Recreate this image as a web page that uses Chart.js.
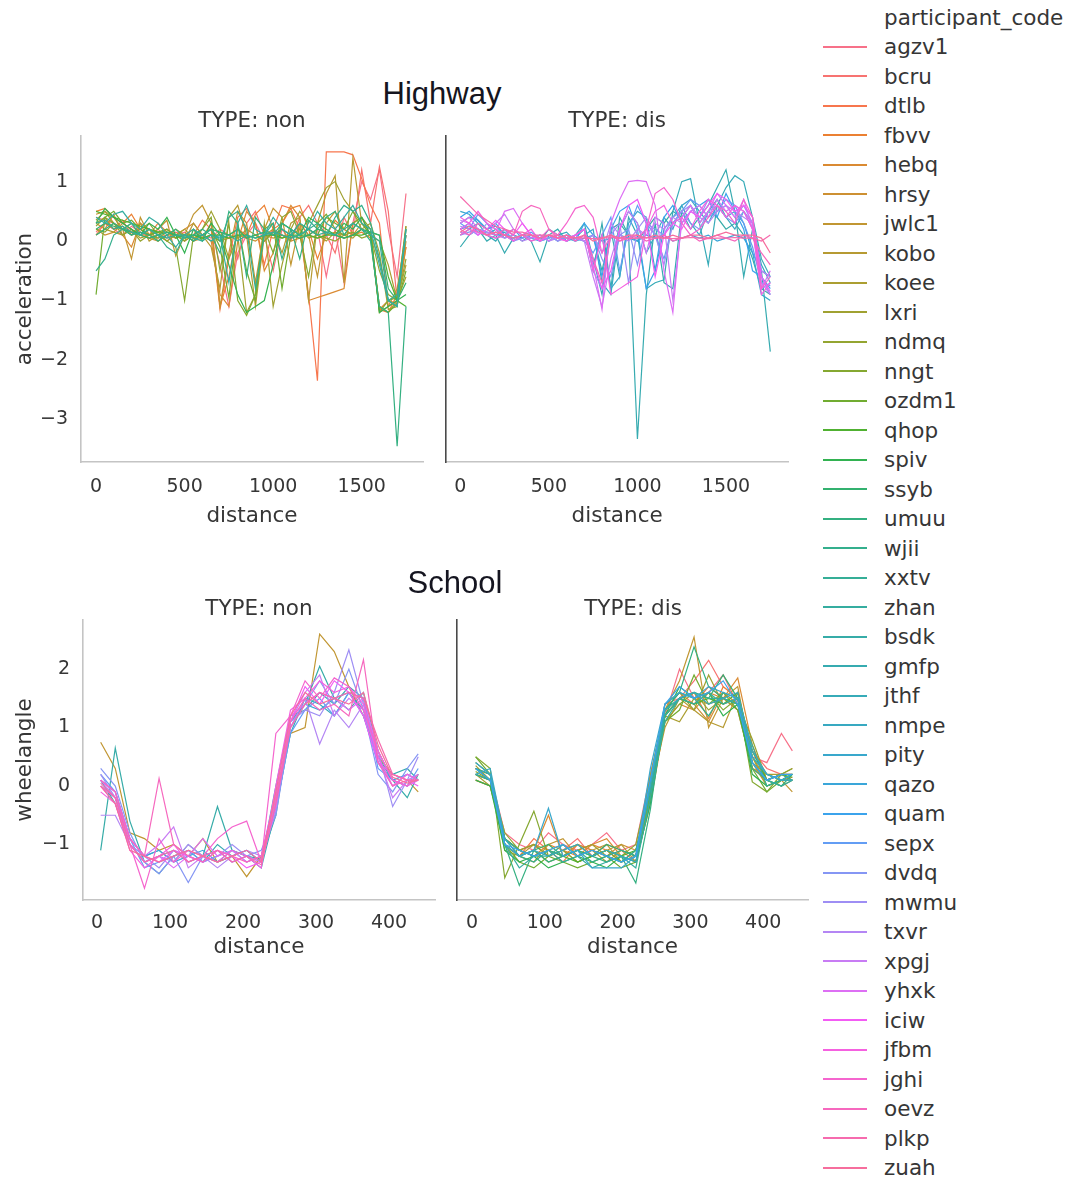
<!DOCTYPE html>
<html>
<head>
<meta charset="utf-8">
<script src="https://cdn.jsdelivr.net/npm/chart.js@4.4.1/dist/chart.umd.min.js"></script>
<style>
  html, body { margin: 0; padding: 0; background: #fff; }
  #fig { position: relative; width: 1070px; height: 1179px; overflow: hidden; background: #fff; }
  .txt { position: absolute; white-space: nowrap; line-height: 1; }
  .panel { position: absolute; }
  .swatch { position: absolute; height: 2px; }
</style>
</head>
<body>
<div id="fig"></div>
<script>
// ---- participants (hue order of the legend) ----
const participants = ['agzv1','bcru','dtlb','fbvv','hebq','hrsy','jwlc1','kobo','koee','lxri',
  'ndmq','nngt','ozdm1','qhop','spiv','ssyb','umuu','wjii','xxtv','zhan',
  'bsdk','gmfp','jthf','nmpe','pity','qazo','quam','sepx','dvdq','mwmu',
  'txvr','xpgj','yhxk','iciw','jfbm','jghi','oevz','plkp','zuah'];

// ---- Highway: acceleration along distance ----
const hwDistance = [0,50,100,150,200,250,300,350,400,450,500,550,600,650,700,750,800,850,
  900,950,1000,1050,1100,1150,1200,1250,1300,1350,1400,1450,1500,1550,1600,1650,1700,1750];
const hwDistanceTicks = [0,500,1000,1500];
const accelTicks = [-3,-2,-1,0,1];

const hwNonCodes = ['agzv1','bcru','dtlb','fbvv','hebq','hrsy','jwlc1','kobo','koee','lxri',
  'ndmq','nngt','ozdm1','qhop','spiv','ssyb','umuu','wjii','xxtv','zhan'];
const hwNonAccel = [
  [0.15,0.3,0.2,0.1,0.25,0.15,0.1,0.2,0.05,0.1,0.15,0.05,0.1,0.2,-0.4,-1.1,-0.2,0.1,0.3,0.0,0.2,0.1,0.05,0.3,0.1,0.2,-0.6,0.2,-0.7,0.3,1.0,0.7,1.2,0.2,-0.6,0.8],
  [0.4,0.35,0.3,0.2,0.15,0.2,0.1,0.05,0.1,0.15,0.1,0.0,0.1,0.05,0.2,0.1,-0.3,0.3,0.5,0.1,-0.5,0.2,0.0,0.4,0.6,0.3,0.1,-0.2,0.4,0.1,1.2,0.3,1.25,0.5,-1.0,0.1],
  [0.1,0.3,0.2,0.35,0.1,0.15,0.05,0.1,0.2,0.1,0.0,0.1,0.35,0.2,-1.15,-0.3,0.4,0.55,0.3,-0.4,0.2,0.6,0.55,0.2,-0.9,-2.35,1.5,1.5,1.5,1.45,1.05,0.6,0.3,-1.1,-1.0,-0.1],
  [0.5,0.55,0.4,0.3,0.45,0.2,0.1,0.3,0.15,0.05,0.1,0.2,0.05,0.3,-1.1,-0.6,0.2,0.1,0.45,0.6,0.2,0.3,0.55,0.6,0.2,-0.3,0.1,0.35,0.2,0.1,0.15,0.05,-1.15,-1.2,-0.9,0.25],
  [0.3,0.2,0.45,0.1,-0.1,0.3,0.2,0.1,0.0,0.1,0.2,0.3,0.1,0.0,-0.9,-1.1,0.0,0.5,0.3,-0.5,-0.2,0.3,0.6,0.4,-1.0,-0.95,-0.9,-0.85,-0.8,0.3,0.4,0.1,-1.15,-1.0,-1.05,-0.1],
  [0.2,0.1,0.15,0.3,0.2,0.1,0.05,0.0,0.1,0.05,0.1,0.0,0.05,0.1,0.0,0.05,0.1,0.05,0.0,0.1,0.05,0.1,0.0,0.05,0.1,0.05,0.1,0.15,0.05,0.1,0.2,0.1,-0.3,-1.0,-1.1,0.0],
  [0.45,0.5,0.3,0.2,-0.3,0.4,0.1,0.2,0.35,-0.25,0.1,0.45,0.6,0.3,-1.1,-0.2,0.5,0.3,-0.7,0.2,0.55,0.4,-0.4,0.3,0.1,-0.6,0.3,0.5,0.2,0.1,0.3,0.2,-1.2,-1.1,-0.8,0.1],
  [0.3,0.4,0.2,0.25,0.1,0.3,0.0,0.1,0.2,0.1,0.0,0.3,0.1,-0.1,-0.8,0.4,0.6,0.1,-1.1,0.1,0.2,-0.2,0.3,0.4,-1.0,0.3,0.8,1.1,-0.7,1.4,0.3,0.1,-1.1,-1.2,-1.0,-0.4],
  [0.1,0.2,0.15,0.1,0.2,0.05,0.1,0.15,0.0,0.1,0.2,0.05,0.1,0.0,0.15,0.1,0.05,0.2,0.1,0.0,0.15,0.05,0.1,0.2,0.05,0.1,0.0,0.15,0.1,0.05,0.2,0.1,0.0,-0.4,-1.0,-0.6],
  [0.35,0.5,0.4,0.2,0.3,0.1,0.2,0.0,0.1,0.2,0.1,0.0,0.2,0.5,0.2,-0.3,0.1,-1.2,-0.9,0.3,-1.1,-0.4,0.2,0.5,0.3,0.6,0.9,1.0,0.7,0.5,0.2,0.3,-0.2,-1.15,-1.1,0.2],
  [0.2,0.15,0.3,0.1,0.2,0.0,0.1,0.05,0.15,0.1,0.0,0.1,0.05,0.1,0.0,0.1,0.2,0.05,0.1,0.0,0.15,0.1,0.05,0.1,0.2,0.1,0.05,0.0,0.1,0.15,0.05,0.1,-0.5,-0.9,-1.0,-0.3],
  [0.25,0.4,0.3,0.2,0.1,0.2,0.3,0.1,0.0,-0.1,-1.0,0.1,0.2,0.4,-0.5,0.3,-1.0,-1.25,-0.9,0.2,-0.2,0.4,0.5,0.1,-0.6,0.3,0.45,0.2,0.1,0.3,0.4,0.2,-1.2,-1.0,-0.95,0.25],
  [-0.9,0.4,0.5,0.3,0.35,0.2,0.1,0.15,0.2,0.05,0.1,0.0,0.1,0.2,-0.1,-0.95,0.3,-0.5,-1.0,0.2,0.3,-0.8,0.1,0.3,0.2,0.1,0.4,0.3,0.2,0.5,0.3,0.1,-1.1,-1.2,-1.05,-0.5],
  [0.5,0.45,0.4,0.35,0.3,0.25,0.2,0.15,0.15,0.1,0.1,0.1,0.05,0.1,0.1,0.05,0.1,0.1,0.05,0.1,0.1,0.05,0.1,0.1,0.1,0.05,0.1,0.1,0.05,0.1,0.1,0.15,0.1,-0.6,-1.0,-1.1],
  [0.3,0.55,0.4,0.3,0.2,0.1,0.3,0.2,0.4,0.1,-0.2,0.2,0.0,0.3,0.1,-0.4,-0.9,-1.2,-1.1,-1.0,-0.4,0.3,0.2,0.1,0.4,0.3,0.2,0.1,0.3,0.2,0.4,0.1,-1.2,-1.1,-1.0,-0.9],
  [0.2,0.3,0.25,0.2,0.15,0.1,0.05,0.1,0.15,0.1,0.05,0.1,0.1,0.2,0.15,0.1,0.2,0.05,0.1,0.15,0.1,0.2,0.1,0.05,0.1,0.2,0.15,0.1,0.05,0.1,0.2,0.15,0.1,-0.8,-1.0,-0.7],
  [0.1,0.2,0.3,0.2,0.1,0.15,0.1,0.0,0.1,0.2,0.05,0.1,0.2,0.1,-0.2,0.5,0.3,-0.6,0.4,0.2,0.1,0.3,0.2,-0.3,0.35,0.2,0.4,0.5,0.1,0.3,0.2,0.0,-1.1,-1.2,-3.45,-1.1],
  [-0.5,-0.3,0.1,0.2,0.3,0.1,0.2,0.1,-0.1,-0.2,0.1,0.0,0.1,0.2,0.0,0.4,0.5,0.2,-0.8,0.1,0.3,-0.3,0.2,0.1,0.2,0.3,0.1,0.4,0.6,0.5,0.6,0.3,-0.3,-1.0,-1.1,0.2],
  [0.3,0.35,0.2,0.25,0.15,0.1,0.2,0.1,0.05,0.1,0.1,0.05,0.0,0.1,0.05,0.1,0.0,0.1,0.05,0.1,0.15,0.1,0.05,0.1,0.2,0.1,0.15,0.1,0.2,0.3,0.2,0.1,0.0,-1.0,-0.9,0.1],
  [0.4,0.3,0.45,0.5,0.3,0.2,0.4,0.3,0.1,-0.1,0.1,0.2,0.1,0.0,0.1,-0.7,0.3,0.6,0.2,0.1,0.4,0.2,0.1,0.3,0.2,0.5,0.3,0.2,0.4,0.6,0.3,0.2,-0.4,-1.0,-1.1,0.2]
];

const hwDisCodes = ['bsdk','gmfp','jthf','nmpe','pity','qazo','quam','sepx','dvdq','mwmu',
  'txvr','xpgj','yhxk','iciw','jfbm','jghi','oevz','plkp','zuah'];
const hwDisAccel = [
  [0.2,0.3,0.15,0.1,0.2,0.05,0.1,0.0,0.1,0.05,0.1,0.0,0.1,0.05,0.0,0.1,-0.5,0.2,0.3,0.1,0.0,0.2,0.4,0.3,0.5,0.4,0.6,0.3,0.5,0.4,0.2,0.3,0.1,-0.3,-0.8,-0.9],
  [-0.1,0.1,0.2,0.0,0.1,-0.2,0.05,0.1,0.0,-0.35,0.1,0.2,0.0,0.1,0.2,-0.5,0.3,-0.8,0.4,0.1,-3.33,-0.9,0.3,-0.7,-0.8,0.5,0.2,0.4,0.6,0.9,1.2,0.5,-0.6,0.2,-0.5,-1.86],
  [0.1,0.2,0.3,0.1,0.0,0.2,0.1,0.05,0.1,0.0,0.2,0.1,0.0,0.1,0.3,-0.3,-0.9,0.2,-0.6,0.4,0.1,-0.8,-0.7,-0.65,0.5,1.0,1.05,0.3,-0.4,0.6,0.9,1.1,1.0,0.4,-0.3,-0.6],
  [0.3,0.4,0.35,0.2,0.1,0.15,0.0,0.1,0.05,0.1,0.0,0.1,0.15,0.0,0.1,0.2,-0.7,-0.9,0.2,0.5,0.3,-0.2,0.1,0.4,0.2,0.6,0.3,0.1,0.5,0.7,0.4,0.2,0.5,0.3,-0.4,-0.7],
  [0.5,0.45,0.3,0.2,0.25,0.1,0.0,0.1,0.05,0.1,0.0,0.1,0.0,0.05,0.2,-0.4,0.1,-0.8,-0.6,0.3,0.5,0.4,-0.5,0.2,0.4,0.6,0.7,0.5,0.3,0.6,0.4,0.5,0.3,-0.2,-0.9,-1.0],
  [0.2,0.25,0.2,0.15,0.1,0.1,0.05,0.1,0.05,0.0,0.05,0.1,0.05,0.0,0.05,0.1,0.0,0.05,0.1,0.05,0.0,0.1,0.05,0.1,0.0,0.05,0.1,0.05,0.1,0.0,0.05,0.1,0.05,-0.2,-0.5,-0.6],
  [0.4,0.5,0.35,0.2,0.3,0.1,0.2,0.05,0.1,0.0,0.1,0.05,0.1,0.0,0.3,0.1,-0.6,0.2,0.5,0.6,0.2,-0.8,-0.5,0.4,0.6,0.3,0.5,0.6,0.7,0.4,0.8,0.5,0.2,-0.5,-0.6,-0.8],
  [0.3,0.2,0.45,0.3,0.1,0.2,0.0,0.1,0.15,0.05,0.1,0.0,0.1,0.05,0.0,-0.2,0.1,0.4,-0.5,0.2,0.6,0.3,0.1,-0.3,0.3,0.5,0.7,0.6,0.4,0.5,0.7,0.6,0.3,-0.1,-0.7,-0.75],
  [0.1,0.15,0.2,0.1,0.05,0.1,0.0,0.05,0.1,0.0,0.05,0.1,0.0,0.1,0.0,0.1,-0.3,-0.6,0.1,0.2,-0.4,0.3,0.2,0.1,0.4,0.5,0.3,0.2,0.5,0.6,0.4,0.3,0.5,0.2,-0.6,-0.9],
  [0.25,0.2,0.1,0.3,0.2,0.1,0.05,0.1,0.0,0.05,0.1,0.0,0.05,0.1,0.2,-0.5,-0.8,0.1,0.3,-0.7,0.2,0.4,0.1,-0.4,0.3,0.5,0.6,0.4,0.7,0.5,0.6,0.4,0.6,0.3,-0.8,-0.7],
  [0.15,0.1,0.2,0.15,0.1,0.05,0.1,0.0,0.05,0.1,0.0,0.05,0.1,0.05,0.0,0.1,-0.2,0.3,0.1,0.0,0.2,0.1,0.3,0.2,0.4,0.3,0.5,0.4,0.3,0.5,0.6,0.5,0.4,0.3,-0.5,-0.6],
  [0.35,0.3,0.2,0.1,0.3,0.45,0.2,0.1,0.05,0.1,0.0,0.1,0.05,0.1,0.0,-0.6,-1.1,-0.3,0.2,0.5,0.3,-0.2,0.4,0.3,-1.0,0.3,0.5,0.6,0.4,0.7,0.5,0.6,0.5,0.3,-0.7,-0.9],
  [0.3,0.4,0.2,0.1,0.15,0.5,0.55,0.3,0.1,0.0,0.1,0.05,0.1,0.0,0.1,-0.4,-1.15,0.3,0.7,1.0,1.02,1.0,0.6,-0.5,-1.2,0.4,0.6,0.3,0.5,0.8,0.6,0.4,0.7,0.2,-0.8,-0.5],
  [0.2,0.3,0.1,0.2,0.35,0.2,0.1,0.3,0.1,0.0,0.1,0.05,0.0,0.1,0.2,-0.3,-0.8,-0.5,0.2,0.6,0.7,0.3,-0.6,0.1,0.3,0.2,0.5,0.4,0.6,0.8,0.7,0.5,0.6,0.4,-0.6,-0.85],
  [0.4,0.3,0.5,0.3,0.2,0.1,0.0,0.1,0.2,0.0,0.1,0.05,0.0,0.1,0.2,-0.5,0.1,-0.9,-0.8,-0.7,-0.6,0.2,0.5,0.6,0.3,0.4,0.2,0.5,0.7,0.6,0.4,0.6,0.5,0.2,-0.9,-0.7],
  [0.1,0.2,0.15,0.1,0.05,0.1,0.2,0.1,0.0,0.05,0.2,0.1,0.3,0.55,0.6,0.4,-0.2,0.1,0.0,0.1,0.05,0.2,0.8,0.9,0.7,0.3,0.1,0.2,0.4,0.6,0.5,0.3,0.7,0.4,-0.8,-0.6],
  [0.2,0.1,0.3,0.2,0.1,0.2,0.1,0.5,0.6,0.55,0.2,0.05,0.1,0.0,0.1,-0.3,-0.7,0.1,0.0,0.05,0.1,0.0,0.05,0.1,0.0,0.05,0.1,0.0,0.05,0.1,0.05,0.0,0.1,0.05,-0.2,-0.4],
  [0.75,0.6,0.45,0.35,0.25,0.2,0.15,0.15,0.1,0.1,0.1,0.1,0.05,0.06,0.05,0.04,0.05,0.06,0.05,0.04,0.05,0.06,0.05,0.05,0.04,0.05,0.06,0.05,0.04,0.05,0.05,0.06,0.05,0.05,0.0,0.1],
  [0.15,0.25,0.2,0.1,0.15,0.1,0.05,0.1,0.1,0.05,0.1,0.05,0.1,0.05,0.1,0.0,0.05,0.1,0.05,0.1,0.1,0.05,0.1,0.05,0.1,0.05,0.1,0.1,0.05,0.1,0.15,0.1,0.1,0.1,0.05,-0.2]
];

// ---- School: wheel angle along distance ----
const scDistance = [5,25,45,65,85,105,125,145,165,185,205,225,245,265,285,305,325,345,365,385,405,425,440];
const scDistanceTicks = [0,100,200,300,400];
const wheelTicks = [-1,0,1,2];

const scNonCodes = ['jwlc1','bsdk','gmfp','jthf','qazo','sepx','dvdq','mwmu','txvr','xpgj',
  'yhxk','iciw','jfbm','jghi','oevz','plkp','zuah'];
const scNonAngle = [
  [0.75,0.3,-0.8,-0.9,-1.1,-1.0,-1.2,-0.9,-1.3,-1.2,-1.55,-1.2,-0.2,0.9,1.0,2.6,2.3,1.7,1.2,0.5,0.2,0.1,-0.1],
  [-1.1,0.65,-0.6,-1.3,-1.2,-1.1,-1.3,-1.2,-0.35,-1.1,-1.2,-1.25,-0.5,1.1,1.4,2.05,1.5,1.3,1.6,0.6,0.1,-0.2,0.2],
  [0.1,-0.3,-1.0,-1.3,-1.5,-1.2,-1.1,-1.3,-1.0,-1.2,-1.1,-1.3,0.0,1.2,1.3,1.6,1.4,1.7,1.5,0.4,0.2,0.3,0.1],
  [0.0,-0.2,-0.9,-1.2,-1.1,-1.3,-1.0,-1.2,-1.3,-1.1,-1.2,-1.4,-0.4,0.9,1.5,1.4,1.2,1.6,1.3,0.5,0.1,0.0,0.2],
  [0.1,-0.1,-0.9,-1.2,-1.1,-1.3,-1.2,-1.1,-1.3,-1.2,-1.1,-1.3,-0.3,1.1,1.4,1.3,1.5,1.6,1.2,0.4,0.1,0.2,0.1],
  [0.2,-0.1,-0.9,-1.4,-1.3,-1.2,-1.1,-1.3,-1.2,-1.1,-1.3,-1.2,-0.4,0.9,1.3,1.5,1.2,1.6,1.5,0.3,0.1,0.0,0.3],
  [0.3,0.0,-0.8,-1.3,-1.5,-1.2,-1.65,-1.2,-1.1,-1.3,-1.2,-1.1,-0.5,1.0,1.4,1.8,1.4,2.0,1.3,0.2,-0.1,0.3,0.55],
  [0.2,-0.2,-1.0,-1.2,-1.4,-1.1,-1.2,-1.3,-1.2,-1.0,-1.2,-1.3,-0.3,1.1,1.3,1.2,1.6,2.33,1.4,0.6,-0.35,0.1,0.5],
  [-0.5,-0.5,-1.0,-1.3,-1.2,-1.3,-1.0,-1.2,-1.4,-1.2,-1.1,-1.2,-0.2,1.0,1.5,0.72,1.3,1.0,1.4,0.4,0.0,0.2,0.1],
  [0.1,-0.2,-0.9,-1.2,-1.0,-0.7,-1.4,-1.2,-1.1,-1.3,-1.2,-1.3,-0.4,1.1,1.6,1.9,1.2,1.5,1.3,0.5,-0.2,0.1,0.2],
  [0.0,-0.3,-1.0,-1.3,-1.2,-1.4,-1.2,-0.9,-1.2,-1.1,-1.3,-1.2,-0.1,1.2,1.4,1.6,1.5,1.3,1.5,0.6,0.1,0.0,0.1],
  [0.1,-0.1,-0.9,-1.2,-1.3,-1.1,-1.2,-1.3,-1.1,-1.2,-1.4,-1.3,-0.3,1.1,1.7,1.4,1.8,1.6,1.2,0.4,0.2,0.1,0.0],
  [-0.1,-0.3,-1.1,-1.4,-1.2,-1.0,-1.3,-1.2,-1.3,-1.1,-1.2,-1.4,0.0,1.3,1.5,1.8,1.6,1.7,1.4,0.5,0.0,0.2,0.1],
  [0.0,-0.2,-1.0,-1.75,-0.9,-1.3,-1.1,-1.2,-0.9,-0.7,-0.6,-1.3,0.9,1.2,1.8,1.5,1.85,1.7,1.3,0.6,0.1,0.0,0.2],
  [0.1,-0.1,-0.9,-1.2,0.13,-1.0,-1.2,-1.3,-1.1,-1.2,-1.3,-1.2,-0.2,1.1,1.5,1.3,1.4,1.2,2.16,0.4,0.0,0.1,0.1],
  [0.05,-0.2,-1.0,-1.3,-1.2,-1.1,-1.3,-1.2,-1.1,-1.3,-1.2,-1.35,-0.3,1.0,1.4,1.6,1.5,1.6,1.5,0.8,0.2,0.1,0.1],
  [0.0,-0.3,-1.1,-1.2,-1.3,-1.2,-1.1,-1.2,-1.3,-1.2,-1.1,-1.3,-0.1,1.2,1.6,1.4,1.5,1.4,1.6,0.7,0.15,0.05,0.1]
];

const scDisCodes = ['agzv1','bcru','dtlb','fbvv','hebq','hrsy','jwlc1','kobo','koee','lxri',
  'ndmq','nngt','ozdm1','qhop','spiv','ssyb','umuu','wjii','xxtv','zhan','nmpe','pity','quam'];
const scDisAngle = [
  [0.3,0.2,-0.8,-1.0,-1.1,-0.8,-1.0,-1.1,-1.0,-0.8,-1.1,-1.0,0.2,1.2,2.0,1.5,1.6,1.9,1.4,0.5,0.4,0.9,0.6],
  [0.2,0.1,-0.9,-1.1,-1.0,-1.2,-1.1,-0.9,-1.2,-1.0,-1.1,-1.2,0.0,1.4,1.5,1.8,2.15,1.7,1.5,0.6,0.3,0.2,0.1],
  [0.1,0.0,-1.0,-1.2,-0.9,-1.1,-1.3,-1.0,-1.1,-1.2,-1.1,-1.3,-0.2,1.3,1.6,1.4,1.7,1.5,1.3,0.3,0.1,0.2,0.2],
  [0.3,0.2,-0.9,-1.1,-1.2,-1.0,-1.1,-1.2,-1.0,-1.1,-1.3,-1.2,-0.1,1.2,1.5,1.6,1.15,1.7,1.5,0.4,0.2,0.1,0.15],
  [0.2,0.1,-1.0,-1.2,-1.1,-0.5,-1.2,-1.1,-1.0,-0.9,-1.2,-1.3,-0.3,1.1,1.4,1.3,1.6,1.5,1.85,0.7,0.1,0.2,0.3],
  [0.1,0.0,-0.9,-1.1,-1.0,-1.1,-1.2,-1.0,-1.1,-1.2,-1.0,-1.1,-0.2,1.2,1.5,1.4,1.1,1.6,1.4,0.3,0.2,0.1,0.1],
  [0.4,0.2,-1.0,-1.2,-1.3,-1.0,-0.9,-1.2,-1.1,-1.0,-1.3,-1.2,0.2,1.3,1.8,2.55,1.0,1.5,1.7,0.4,0.0,0.1,-0.1],
  [0.3,0.1,-1.1,-1.2,-1.0,-1.2,-1.1,-1.3,-1.2,-1.1,-1.0,-1.3,-0.1,1.0,1.5,1.3,1.1,1.0,1.6,0.5,0.1,0.0,0.1],
  [0.2,0.0,-0.9,-1.1,-1.2,-1.1,-1.0,-1.2,-1.1,-1.3,-1.1,-1.2,0.0,1.2,1.1,1.5,1.4,1.5,1.3,0.6,0.2,0.2,0.2],
  [0.35,0.1,-1.0,-1.2,-1.1,-1.3,-1.2,-1.1,-1.0,-1.2,-1.3,-1.1,-0.2,1.3,1.6,1.3,1.9,1.4,1.5,0.5,0.0,0.1,0.2],
  [0.25,0.1,-0.8,-1.1,-1.0,-1.2,-1.1,-1.0,-1.2,-1.1,-1.2,-1.0,0.1,1.1,1.4,1.6,1.3,1.5,1.4,0.8,0.1,0.2,0.1],
  [0.5,0.3,-1.57,-1.0,-0.43,-1.2,-1.1,-1.3,-1.2,-1.1,-1.3,-1.2,0.0,1.2,1.5,1.4,1.6,1.3,1.5,0.07,-0.1,0.2,0.3],
  [0.5,0.2,-1.0,-1.3,-1.4,-1.2,-1.3,-1.4,-1.3,-1.2,-1.4,-1.3,-0.2,1.1,1.3,1.9,1.4,1.6,1.3,0.3,-0.1,0.1,0.2],
  [0.3,0.1,-0.9,-1.1,-1.2,-1.1,-1.2,-1.3,-1.2,-1.1,-1.2,-1.1,-0.1,1.3,1.5,1.4,1.5,1.4,1.6,0.6,0.1,0.2,0.15],
  [0.1,0.0,-1.1,-1.3,-1.2,-1.4,-1.3,-1.2,-1.3,-1.4,-1.2,-1.3,-0.3,1.2,1.7,1.5,1.6,1.2,1.4,0.2,0.0,0.1,0.2],
  [0.3,0.2,-0.9,-1.2,-1.1,-1.0,-1.2,-1.1,-1.2,-1.0,-1.1,-1.2,0.0,1.2,1.5,1.6,1.5,1.9,1.5,0.4,0.1,0.0,0.2],
  [0.2,0.1,-1.0,-1.7,-1.1,-1.3,-1.2,-1.1,-1.2,-1.3,-1.2,-1.66,-0.4,1.3,1.6,2.38,1.7,1.5,1.4,0.5,0.2,0.1,0.1],
  [0.4,0.2,-1.0,-1.2,-1.3,-1.1,-1.2,-1.1,-1.3,-1.2,-1.1,-1.2,0.1,1.4,1.6,1.5,1.2,1.6,1.5,0.3,0.1,0.2,0.1],
  [0.2,0.1,-0.9,-1.1,-1.2,-1.2,-1.0,-1.2,-1.1,-1.2,-1.3,-1.1,-0.1,1.2,1.5,1.6,1.5,1.5,1.4,0.7,0.0,0.1,0.2],
  [0.3,0.2,-1.0,-1.4,-1.2,-1.1,-1.3,-1.2,-1.4,-1.3,-1.2,-1.4,-0.2,1.1,1.5,1.4,1.6,1.4,1.5,0.4,0.1,0.0,0.1],
  [0.2,0.3,-0.9,-1.2,-1.1,-1.2,-1.1,-1.0,-1.2,-1.1,-1.2,-1.3,0.0,1.3,1.5,1.6,1.4,1.5,1.6,0.6,0.2,0.1,0.1],
  [0.4,0.2,-1.0,-1.2,-1.1,-0.38,-1.2,-1.1,-1.4,-1.4,-1.4,-1.2,0.3,1.4,1.6,1.5,1.7,1.6,1.5,0.5,0.2,0.1,0.2],
  [0.3,0.1,-1.0,-1.1,-1.2,-1.1,-1.0,-1.2,-1.1,-1.2,-1.3,-1.2,0.1,1.4,1.7,1.5,1.6,1.8,1.4,0.4,0.1,0.2,0.2]
];

// ---- colours: evenly spaced HUSL hues (h0=.01, s=.9, l=.65) ----
function huslToHex(h, s, l) {
  const M = [[3.240969941904521, -1.537383177570093, -0.498610760293],
             [-0.96924363628087, 1.87596750150772, 0.041555057407175],
             [0.055630079696993, -0.20397695888897, 1.056971514242878]];
  const refU = 0.19783000664283, refV = 0.46831999493879;
  const kappa = 903.2962962, eps = 0.0088564516;
  const sub1 = Math.pow(l + 16, 3) / 1560896;
  const sub2 = sub1 > eps ? sub1 : l / kappa;
  const hr = h / 360 * Math.PI * 2;
  let maxC = Infinity;
  for (const [m1, m2, m3] of M) {
    for (const t of [0, 1]) {
      const top1 = (284517 * m1 - 94839 * m3) * sub2;
      const top2 = (838422 * m3 + 769860 * m2 + 731718 * m1) * l * sub2 - 769860 * t * l;
      const bottom = (632260 * m3 - 126452 * m2) * sub2 + 126452 * t;
      const slope = top1 / bottom, intercept = top2 / bottom;
      const len = intercept / (Math.sin(hr) - slope * Math.cos(hr));
      if (len >= 0) maxC = Math.min(maxC, len);
    }
  }
  const C = maxC / 100 * s;
  const U = C * Math.cos(hr), V = C * Math.sin(hr);
  const Y = l > 8 ? Math.pow((l + 16) / 116, 3) : l / kappa;
  const vu = U / (13 * l) + refU, vv = V / (13 * l) + refV;
  const X = 0 - (9 * Y * vu) / ((vu - 4) * vv - vu * vv);
  const Z = (9 * Y - 15 * vv * Y - vv * X) / (3 * vv);
  const rgb = M.map(([a, b, c]) => a * X + b * Y + c * Z)
    .map(v => v <= 0.0031308 ? 12.92 * v : 1.055 * Math.pow(v, 1 / 2.4) - 0.055);
  return '#' + rgb.map(v => Math.round(Math.min(1, Math.max(0, v)) * 255).toString(16).padStart(2, '0')).join('');
}
const palette = participants.map((_, i) => huslToHex(((i / participants.length + 0.01) % 1) * 359, 0.9 * 99, 0.65 * 99));

// ---- page helpers ----
const fig = document.getElementById('fig');
const TEXT = '#363636';
const SANS = '"DejaVu Sans", sans-serif';

function placeText(str, x, baseline, size, opts = {}) {
  const d = document.createElement('div');
  d.className = 'txt';
  d.textContent = str;
  d.style.fontFamily = opts.family || SANS;
  d.style.fontSize = size + 'px';
  d.style.color = opts.color || TEXT;
  d.style.top = (baseline - 0.846 * size) + 'px';
  d.style.left = x + 'px';
  if (opts.align !== 'left') d.style.transform = 'translateX(-50%)';
  fig.appendChild(d);
}

const minusFmt = v => (v < 0 ? '\u2212' + Math.abs(v) : String(v));

// Chart area starts PAD_TOP px below the canvas top (room for tick-label overflow).
const PAD_TOP = 25;

function makePanel(cfg) {
  const wrap = document.createElement('div');
  wrap.className = 'panel';
  Object.assign(wrap.style, { left: cfg.left + 'px', top: cfg.top + 'px',
    width: cfg.width + 'px', height: cfg.height + 'px' });
  const cv = document.createElement('canvas');
  cv.width = cfg.width; cv.height = cfg.height;
  cv.style.width = cfg.width + 'px'; cv.style.height = cfg.height + 'px';
  wrap.appendChild(cv);
  fig.appendChild(wrap);

  const datasets = cfg.codes.map((code, i) => {
    const idx = participants.indexOf(code);
    return {
      label: code,
      data: cfg.xs.map((x, j) => ({ x, y: cfg.values[i][j] })),
      borderColor: palette[idx],
      borderWidth: 1.2,
      pointRadius: 0,
      tension: 0,
      fill: false,
      order: -idx
    };
  });

  new Chart(cv, {
    type: 'line',
    data: { datasets },
    options: {
      responsive: false,
      animation: false,
      devicePixelRatio: 1,
      events: [],
      layout: { padding: { top: PAD_TOP, right: 10, left: 0, bottom: 0 } },
      plugins: { legend: { display: false }, tooltip: { enabled: false }, title: { display: false } },
      scales: {
        x: {
          type: 'linear', min: cfg.xmin, max: cfg.xmax,
          afterBuildTicks: s => { s.ticks = cfg.xticks.map(v => ({ value: v })); },
          afterFit: s => { s.height = 70; },
          grid: { display: false, drawTicks: false },
          border: { display: true, color: '#c4c4c4', width: 1.6 },
          ticks: { padding: cfg.tickPadX, color: TEXT, autoSkip: false, maxRotation: 0,
                   font: { family: SANS, size: 19 }, callback: minusFmt },
          title: { display: true, text: 'distance', color: TEXT,
                   font: { family: SANS, size: 21.5 }, padding: { top: 0, bottom: cfg.titlePadX } }
        },
        y: {
          type: 'linear', min: cfg.ymin, max: cfg.ymax,
          afterBuildTicks: s => { s.ticks = cfg.yticks.map(v => ({ value: v })); },
          afterFit: s => { s.width = cfg.yw; },
          grid: { display: false, drawTicks: false },
          border: { display: true, color: cfg.spineY, width: 1.6 },
          ticks: { display: cfg.showY, padding: 13, color: TEXT,
                   font: { family: SANS, size: 19 }, callback: minusFmt },
          title: { display: !!cfg.ytitle, text: cfg.ytitle || '', color: TEXT,
                   font: { family: SANS, size: 21.5 }, padding: { top: 12.5, bottom: 0 } }
        }
      }
    }
  });
}

// ---- Highway row (plot area 136..462) ----
const hwY = { ymin: -3.716, ymax: 1.767, yticks: accelTicks };
makePanel(Object.assign({ left: 0, top: 136 - PAD_TOP, width: 433, height: PAD_TOP + 326 + 70, yw: 81,
  codes: hwNonCodes, values: hwNonAccel, xs: hwDistance, xmin: -85, xmax: 1846,
  xticks: hwDistanceTicks, ytitle: 'acceleration', showY: true, spineY: '#c4c4c4',
  tickPadX: 14, titlePadX: 3 }, hwY));
makePanel(Object.assign({ left: 440, top: 136 - PAD_TOP, width: 358, height: PAD_TOP + 326 + 70, yw: 6,
  codes: hwDisCodes, values: hwDisAccel, xs: hwDistance, xmin: -79, xmax: 1850,
  xticks: hwDistanceTicks, ytitle: null, showY: false, spineY: '#4a4a4a',
  tickPadX: 14, titlePadX: 3 }, hwY));

// ---- School row (plot area 620..900) ----
const scY = { ymin: -1.95, ymax: 2.84, yticks: wheelTicks };
makePanel(Object.assign({ left: 0, top: 620 - PAD_TOP, width: 445, height: PAD_TOP + 280 + 70, yw: 83,
  codes: scNonCodes, values: scNonAngle, xs: scDistance, xmin: -19.2, xmax: 463,
  xticks: scDistanceTicks, ytitle: 'wheelangle', showY: true, spineY: '#c4c4c4',
  tickPadX: 11.5, titlePadX: 10 }, scY));
makePanel(Object.assign({ left: 451, top: 620 - PAD_TOP, width: 367, height: PAD_TOP + 280 + 70, yw: 6,
  codes: scDisCodes, values: scDisAngle, xs: scDistance, xmin: -20.6, xmax: 461.5,
  xticks: scDistanceTicks, ytitle: null, showY: false, spineY: '#4a4a4a',
  tickPadX: 11.5, titlePadX: 10 }, scY));

// ---- titles ----
placeText('Highway', 442, 104, 31, { family: '"Liberation Sans", Arial, sans-serif', color: '#151520' });
placeText('School', 455, 593, 31, { family: '"Liberation Sans", Arial, sans-serif', color: '#151520' });
placeText('TYPE: non', 252, 127, 21.5);
placeText('TYPE: dis', 617, 127, 21.5);
placeText('TYPE: non', 259, 615, 21.5);
placeText('TYPE: dis', 633, 615, 21.5);

// ---- legend ----
placeText('participant_code', 884, 25, 21.5, { align: 'left' });
participants.forEach((code, i) => {
  const y = 46.7 + 29.5 * i;
  const sw = document.createElement('div');
  sw.className = 'swatch';
  Object.assign(sw.style, { left: '823px', width: '44px', top: (y - 1) + 'px', background: palette[i] });
  fig.appendChild(sw);
  placeText(code, 884, y + 7.5, 21.5, { align: 'left' });
});
</script>
</body>
</html>
